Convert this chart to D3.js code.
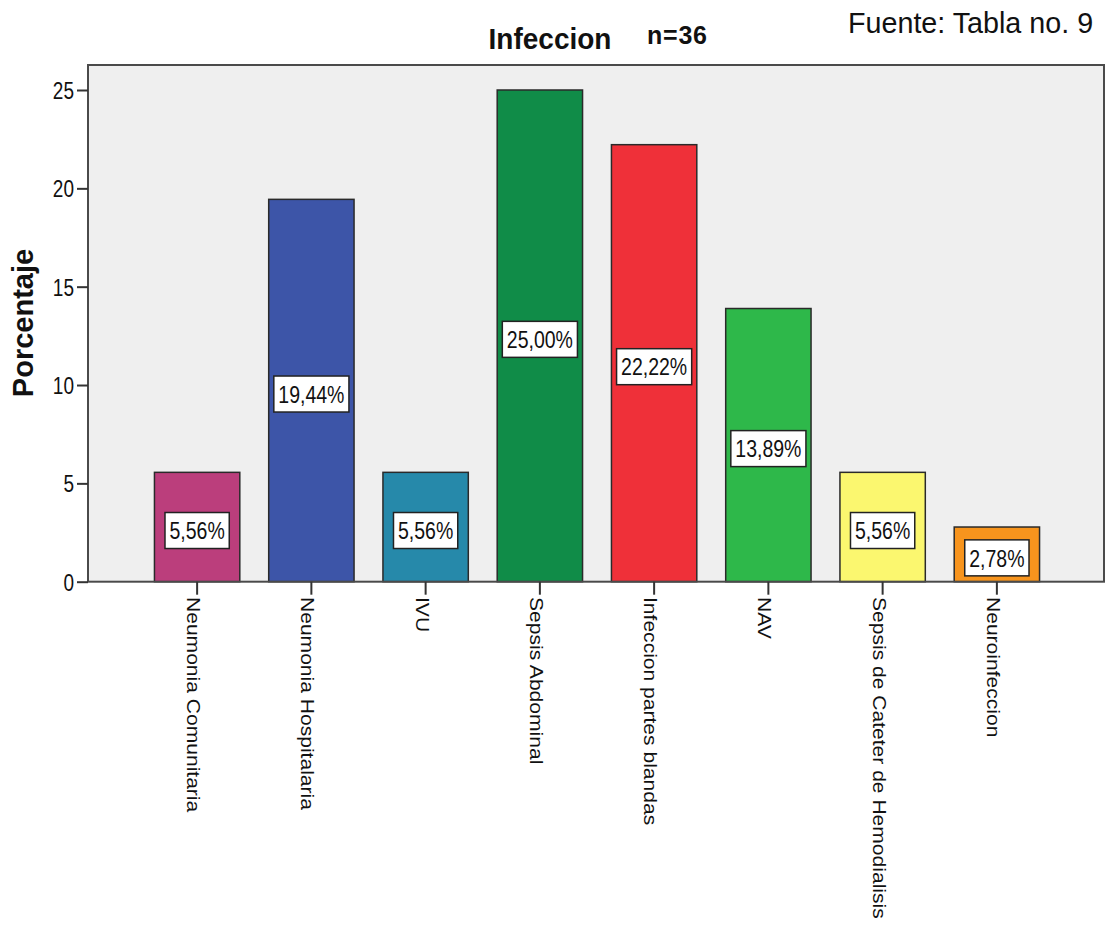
<!DOCTYPE html>
<html>
<head>
<meta charset="utf-8">
<script src="https://cdn.jsdelivr.net/npm/d3@7"></script>
<style>
  html, body { margin: 0; padding: 0; background: #ffffff; }
  svg { display: block; }
  text { font-family: "Liberation Sans", Arial, sans-serif; fill: #111; }
</style>
</head>
<body>
<svg id="chart" width="1106" height="925"></svg>
<script>
// Infection types and their share of the 36 cases (percent)
const categories = [
  "Neumonia Comunitaria",
  "Neumonia Hospitalaria",
  "IVU",
  "Sepsis Abdominal",
  "Infeccion partes blandas",
  "NAV",
  "Sepsis de Cateter de Hemodialisis",
  "Neuroinfeccion"
];
const values = [5.56, 19.44, 5.56, 25.00, 22.22, 13.89, 5.56, 2.78];
const barColors = ["#BB3E7C", "#3D55A8", "#2689AA", "#108C48", "#EF3039", "#2EB84A", "#FBF76F", "#F7941D"];
const yTicks = [0, 5, 10, 15, 20, 25];

const svg = d3.select("#chart");

// plot frame
const frame = { left: 88, right: 1104, top: 65, bottom: 581.7 };

const x = d3.scaleBand()
  .domain(categories)
  .range([140, 1054])
  .paddingInner(0.253)
  .paddingOuter(0.1265);

const y = d3.scaleLinear()
  .domain([0, 25])
  .range([frame.bottom, 90]);

// background panel
svg.append("rect")
  .attr("x", frame.left).attr("y", frame.top)
  .attr("width", frame.right - frame.left)
  .attr("height", frame.bottom - frame.top)
  .attr("fill", "#EFEFEF");

// bars
svg.append("g").selectAll("rect")
  .data(values)
  .join("rect")
  .attr("x", (d, i) => x(categories[i]))
  .attr("y", d => y(d))
  .attr("width", x.bandwidth())
  .attr("height", d => y(0) - y(d))
  .attr("fill", (d, i) => barColors[i])
  .attr("stroke", "#2a2a2a")
  .attr("stroke-width", 1.5);

// frame border
svg.append("rect")
  .attr("x", frame.left).attr("y", frame.top)
  .attr("width", frame.right - frame.left)
  .attr("height", frame.bottom - frame.top)
  .attr("fill", "none")
  .attr("stroke", "#4a4a4a")
  .attr("stroke-width", 2);

// y axis ticks and labels (labels drawn slightly tall)
const yAxis = svg.append("g")
  .attr("transform", `translate(${frame.left},0)`)
  .call(d3.axisLeft(y).tickValues(yTicks).tickSize(11).tickPadding(3).tickFormat(d3.format("d")));
yAxis.select(".domain").remove();
yAxis.selectAll(".tick line").attr("stroke", "#333").attr("stroke-width", 2);
yAxis.selectAll(".tick text")
  .attr("font-size", 19)
  .attr("fill", "#222")
  .attr("font-family", "Liberation Sans, Arial, sans-serif")
  .attr("dy", "0.36em")
  .attr("transform", "scale(1,1.25)");

// x axis ticks and rotated category labels
const xAxis = svg.append("g")
  .attr("transform", `translate(0,${frame.bottom})`)
  .call(d3.axisBottom(x).tickSize(13).tickFormat(""));
xAxis.select(".domain").remove();
xAxis.selectAll(".tick line").attr("stroke", "#333").attr("stroke-width", 2);

svg.append("g").selectAll("text")
  .data(categories)
  .join("text")
  .attr("transform", d => `translate(${x(d) + x.bandwidth() / 2 - 10},597) rotate(90) scale(1.17,1)`)
  .attr("font-size", 18)
  .attr("fill", "#1a1a1a")
  .attr("text-anchor", "start")
  .text(d => d);

// value boxes in the middle of each bar
const fmt = v => v.toFixed(2).replace(".", ",") + "%";
const labelG = svg.append("g").selectAll("g")
  .data(values)
  .join("g")
  .attr("transform", (d, i) => `translate(${x(categories[i]) + x.bandwidth() / 2},${(y(d) + y(0)) / 2 + 3.5})`);

labelG.append("text")
  .attr("font-size", 19.5)
  .attr("text-anchor", "middle")
  .attr("fill", "#111")
  .attr("transform", "scale(1,1.25)")
  .attr("dy", "0.36em")
  .text(d => fmt(d));

labelG.each(function() {
  const g = d3.select(this);
  const w = g.select("text").node().getComputedTextLength() + 9;
  g.insert("rect", "text")
    .attr("x", -w / 2).attr("y", -18)
    .attr("width", w).attr("height", 36)
    .attr("fill", "#ffffff")
    .attr("stroke", "#222")
    .attr("stroke-width", 1.5);
});

// y axis title
svg.append("text")
  .attr("transform", "translate(33,323) rotate(-90)")
  .attr("text-anchor", "middle")
  .attr("font-size", 29)
  .attr("font-weight", "bold")
  .attr("fill", "#111")
  .text("Porcentaje");

// chart title and annotations
svg.append("text")
  .attr("transform", "translate(550,49) scale(1,1.08)")
  .attr("text-anchor", "middle")
  .attr("font-size", 28)
  .attr("font-weight", "bold")
  .attr("fill", "#1a1a1a")
  .text("Infeccion");

svg.append("text")
  .attr("x", 647).attr("y", 44)
  .attr("font-size", 25)
  .attr("font-weight", "bold")
  .attr("fill", "#000")
  .attr("textLength", 60)
  .text("n=36");

svg.append("text")
  .attr("x", 848).attr("y", 33)
  .attr("font-size", 28.7)
  .attr("fill", "#000")
  .text("Fuente: Tabla no. 9");
</script>
</body>
</html>
